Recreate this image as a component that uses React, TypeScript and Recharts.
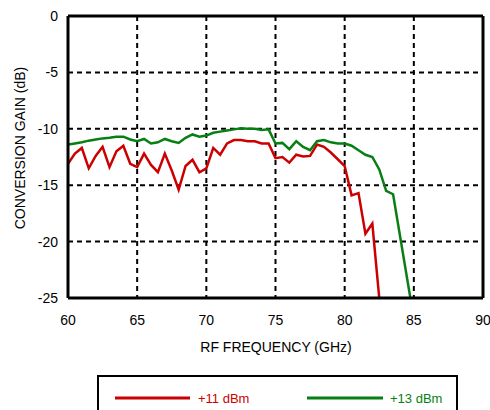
import { CartesianGrid, Line, LineChart, XAxis, YAxis } from "recharts";

const redFreq = [
  60, 60.5, 61, 61.5, 62, 62.5, 63, 63.5, 64, 64.5, 65, 65.5, 66, 66.5, 67,
  67.5, 68, 68.5, 69, 69.5, 70, 70.5, 71, 71.5, 72, 72.5, 73, 73.5, 74, 74.5,
  75, 75.5, 76, 76.5, 77, 77.5, 78, 78.5, 79, 79.5, 80, 80.5, 81, 81.5, 82,
  82.5,
];
const redGain = [
  -13.1, -12.2, -11.7, -13.5, -12.4, -11.6, -13.4, -12.0, -11.5, -13.1, -13.4,
  -12.2, -13.2, -13.85, -12.2, -13.7, -15.4, -13.3, -12.75, -13.85, -13.5,
  -11.7, -12.3, -11.3, -11.0, -11.0, -11.1, -11.1, -11.3, -11.3, -12.6, -12.5,
  -13.0, -12.3, -12.45, -12.4, -11.4, -11.6, -12.1, -12.7, -13.3, -15.9, -15.7,
  -19.3, -18.4, -25,
];

const greenFreq = [
  60, 60.5, 61, 61.5, 62, 62.5, 63, 63.5, 64, 64.5, 65, 65.5, 66, 66.5, 67,
  67.5, 68, 68.5, 69, 69.5, 70, 70.5, 71, 71.5, 72, 72.5, 73, 73.5, 74, 74.5,
  75, 75.5, 76, 76.5, 77, 77.5, 78, 78.5, 79, 79.5, 80, 80.5, 81, 81.5, 82,
  82.5, 83, 83.5, 84.75,
];
const greenGain = [
  -11.4, -11.3, -11.2, -11.05, -10.95, -10.85, -10.8, -10.7, -10.7, -10.95,
  -11.1, -10.9, -11.3, -11.2, -10.9, -11.1, -11.25, -10.8, -10.5, -10.7, -10.6,
  -10.35, -10.25, -10.15, -10.05, -9.95, -10.0, -10.0, -10.1, -10.05, -11.3,
  -11.25, -11.8, -11.1, -11.6, -11.9, -11.1, -11.0, -11.2, -11.3, -11.3, -11.5,
  -11.9, -12.3, -12.5, -13.6, -15.5, -15.8, -25,
];

const xTicks = [60, 65, 70, 75, 80, 85, 90];
const yTicks = [-25, -20, -15, -10, -5, 0];
const xMinor = Array.from({ length: 31 }, (_, i) => 60 + i);
const yMinor = Array.from({ length: 26 }, (_, i) => -25 + i);

const RED = "#cc0000";
const GREEN = "#087f14";
const FONT = "'Liberation Sans', Arial, sans-serif";

const redData = redFreq.map((f, i) => ({ f, g: redGain[i] }));
const greenData = greenFreq.map((f, i) => ({ f, g: greenGain[i] }));

const tickStyle = { fill: "#000", fontSize: 14, fontFamily: FONT };
const frame = { stroke: "#000", strokeWidth: 3 };
const minorLine = { stroke: "#000", strokeWidth: 1.5 };
const blank = () => "";

export default function App() {
  return (
    <div style={{ width: 490, height: 410, position: "relative" }}>
      <style>{`body{margin:0}`}</style>
      <LineChart
        width={490}
        height={410}
        margin={{ top: 16, right: 7, bottom: 72, left: 0 }}
      >
        <CartesianGrid
          xAxisId="x"
          yAxisId="y"
          stroke="#000"
          strokeWidth={2}
          strokeDasharray="5 4"
        />
        <XAxis
          xAxisId="x"
          type="number"
          dataKey="f"
          domain={[60, 90]}
          ticks={xTicks}
          allowDataOverflow
          height={40}
          tickLine={false}
          tickMargin={11}
          axisLine={frame}
          tick={tickStyle}
        />
        <XAxis
          xAxisId="xb"
          type="number"
          dataKey="f"
          domain={[60, 90]}
          ticks={xMinor}
          mirror
          tickSize={5}
          tickLine={minorLine}
          axisLine={false}
          tickFormatter={blank}
        />
        <XAxis
          xAxisId="xt"
          orientation="top"
          type="number"
          dataKey="f"
          domain={[60, 90]}
          ticks={xMinor}
          mirror
          tickSize={5}
          tickLine={minorLine}
          axisLine={frame}
          tickFormatter={blank}
        />
        <YAxis
          yAxisId="y"
          type="number"
          domain={[-25, 0]}
          ticks={yTicks}
          allowDataOverflow
          width={68}
          tickLine={false}
          tickMargin={4}
          axisLine={frame}
          tick={tickStyle}
        />
        <YAxis
          yAxisId="yl"
          type="number"
          domain={[-25, 0]}
          ticks={yMinor}
          mirror
          tickSize={5}
          tickLine={minorLine}
          axisLine={false}
          tickFormatter={blank}
        />
        <YAxis
          yAxisId="yr"
          orientation="right"
          type="number"
          domain={[-25, 0]}
          ticks={yMinor}
          mirror
          tickSize={5}
          tickLine={minorLine}
          axisLine={frame}
          tickFormatter={blank}
        />
        <Line
          xAxisId="x"
          yAxisId="y"
          data={redData}
          dataKey="g"
          stroke={RED}
          strokeWidth={2.5}
          dot={false}
          isAnimationActive={false}
        />
        <Line
          xAxisId="x"
          yAxisId="y"
          data={greenData}
          dataKey="g"
          stroke={GREEN}
          strokeWidth={2.5}
          dot={false}
          isAnimationActive={false}
        />
        <text
          transform="translate(25,148) rotate(-90)"
          textAnchor="middle"
          fontFamily={FONT}
          fontSize={14}
          fill="#000"
        >
          CONVERSION GAIN (dB)
        </text>
        <text
          x={276}
          y={352}
          textAnchor="middle"
          fontFamily={FONT}
          fontSize={14}
          fill="#000"
        >
          RF FREQUENCY (GHz)
        </text>
        {/* legend box, runs off the bottom edge like the original */}
        <rect x={98} y={376} width={359} height={50} fill="none" stroke="#000" strokeWidth={2} />
        <line x1={115} y1={398} x2={190} y2={398} stroke={RED} strokeWidth={3} />
        <text x={198} y={403} fontFamily={FONT} fontSize={13} fill={RED}>
          +11 dBm
        </text>
        <line x1={307} y1={398} x2={383} y2={398} stroke={GREEN} strokeWidth={3} />
        <text x={390} y={403} fontFamily={FONT} fontSize={13} fill={GREEN}>
          +13 dBm
        </text>
      </LineChart>
    </div>
  );
}
